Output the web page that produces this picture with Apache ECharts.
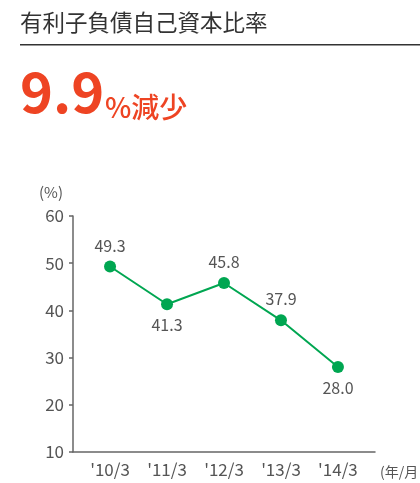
<!DOCTYPE html>
<html>
<head>
<meta charset="utf-8">
<script src="https://cdn.jsdelivr.net/npm/echarts@6/dist/echarts.min.js"></script>
<style>
  html, body { margin: 0; padding: 0; background: #fff; }
  #chart { width: 420px; height: 483px; }
</style>
</head>
<body>
<div id="chart"></div>
<script>
  var categories = ["'10/3", "'11/3", "'12/3", "'13/3", "'14/3"];
  var ratios = [49.3, 41.3, 45.8, 37.9, 28.0];
  var labelBelow = [false, true, false, false, true];
  var yTicks = [10, 60, 10]; // min, max, step

  var font = '"Noto Sans CJK JP", "Noto Sans", sans-serif';
  var green = '#00a651';
  var red = '#ee4423';
  var axisGray = '#666';
  var textGray = '#555';

  var points = ratios.map(function (v, i) {
    return {
      value: [i, v],
      label: { position: labelBelow[i] ? 'bottom' : 'top', distance: 7 }
    };
  });

  var chart = echarts.init(document.getElementById('chart'));
  chart.setOption({
    animation: false,
    textStyle: { fontFamily: font },
    graphic: [
      {
        type: 'text', left: 20, top: 11,
        style: { text: '有利子負債自己資本比率', font: '22.5px ' + font, fill: '#333' }
      },
      {
        type: 'rect', shape: { x: 20, y: 44, width: 400, height: 1.5 },
        style: { fill: '#333' }
      },
      {
        type: 'text', x: 20, y: 120,
        style: { text: '9.9', font: 'bold 56px ' + font, fill: red, textVerticalAlign: 'bottom' }
      },
      {
        type: 'text', x: 105, y: 121,
        style: { text: '%減少', font: '500 28px ' + font, fill: red, textVerticalAlign: 'bottom' }
      }
    ],
    grid: { left: 73, right: 45, top: 216, bottom: 31, containLabel: false },
    xAxis: {
      type: 'value',
      min: -0.65,
      max: 4.65,
      splitLine: { show: false },
      axisLine: { show: true, onZero: false, lineStyle: { color: axisGray, width: 1.5 } },
      axisTick: { show: false },
      axisLabel: {
        customValues: [0, 1, 2, 3, 4],
        formatter: function (v) { return categories[Math.round(v)]; },
        color: textGray, fontSize: 17, margin: 9
      },
      name: '(年/月',
      nameLocation: 'end',
      nameGap: 5,
      nameTextStyle: { color: textGray, fontSize: 14, verticalAlign: 'top', padding: [13, 0, 0, 0] }
    },
    yAxis: {
      type: 'value',
      min: yTicks[0],
      max: yTicks[1],
      interval: yTicks[2],
      splitLine: { show: false },
      axisLine: { show: true, onZero: false, lineStyle: { color: axisGray, width: 1.5 } },
      axisTick: { show: true, length: 4, inside: false, lineStyle: { color: axisGray, width: 1.5 } },
      axisLabel: { color: textGray, fontSize: 17, margin: 9 },
      name: '(%)',
      nameLocation: 'end',
      nameGap: 16,
      nameTextStyle: { color: textGray, fontSize: 15, align: 'right', padding: [0, 10, 0, 0] }
    },
    series: [{
      type: 'line',
      data: points,
      symbol: 'circle',
      symbolSize: 12,
      lineStyle: { color: green, width: 2 },
      itemStyle: { color: green },
      label: {
        show: true,
        color: textGray,
        fontSize: 16,
        formatter: function (p) { return p.value[1].toFixed(1); }
      }
    }]
  });
</script>
</body>
</html>
